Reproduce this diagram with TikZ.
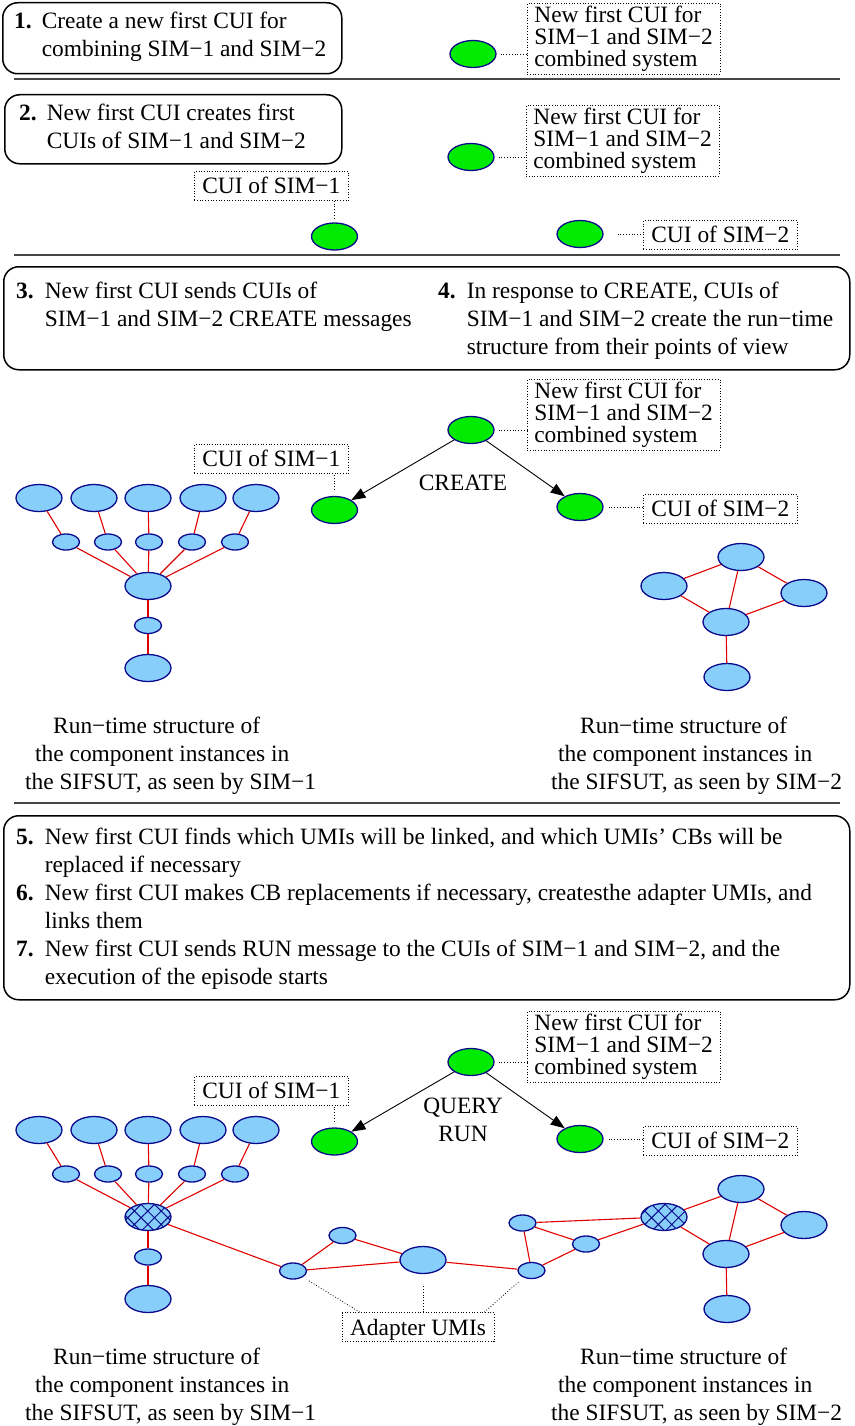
\documentclass[tikz,border=0pt]{standalone}
\usepackage{fontspec}
\setmainfont{Liberation Serif}
\usetikzlibrary{shapes.geometric,arrows.meta,patterns.meta}

\definecolor{umiblue}{RGB}{135,206,250}
\definecolor{umirim}{RGB}{10,10,140}
\definecolor{cuigreen}{RGB}{0,235,0}
\definecolor{linkred}{RGB}{225,0,0}
\definecolor{rulegray}{RGB}{70,70,70}

\newcommand\bodyfont{\fontsize{23.4}{28}\selectfont}
\newcommand\tagfont{\fontsize{23.4}{22}\selectfont}
\newcommand\stepnum[1]{\textbf{#1}}

\begin{document}
\begin{tikzpicture}[x=1pt,y=-1pt,
  every node/.style={font=\bodyfont},
  big/.style={ellipse, draw=umirim, fill=umiblue, line width=1.3pt,
    minimum width=46pt, minimum height=27pt, inner sep=0pt},
  small/.style={big, minimum width=27pt, minimum height=16pt},
  hub/.style={big, preaction={fill=umiblue},
    pattern={Hatch[angle=45,distance=9.5pt,line width=1pt]}, pattern color=umirim},
  cui/.style={big, fill=cuigreen},
  tag/.style={draw, dotted, line width=0.7pt, inner xsep=7pt, inner ysep=2.5pt,
    align=left, font=\tagfont, anchor=north west},
  tagone/.style={draw, dotted, line width=0.7pt, inner xsep=8pt, inner ysep=1.5pt,
    text height=21pt, text depth=5pt, anchor=north west},
  link/.style={draw=linkred, line width=1.1pt},
  dotlink/.style={dotted, line width=0.8pt},
  msg/.style={-{Triangle[length=14pt,width=10.5pt]}, line width=0.9pt},
  stepbox/.style={draw, rounded corners=15pt, line width=1.5pt, anchor=north west, inner sep=0pt},
  steptext/.style={anchor=base west, inner sep=0pt},
  rule/.style={draw=rulegray, line width=1.8pt}
]
\useasboundingbox (0,0) rectangle (854,1426);

% ---------- step 1 ----------
\node[stepbox, minimum width=339pt, minimum height=71pt] (box1) at (2,2) {};
\node[steptext] (step1) at (14,29) {\begin{tabular}[t]{@{}l@{\hspace{10pt}}l@{}}
  \stepnum{1.} & Create a new first CUI for\\
  & combining SIM−1 and SIM−2\end{tabular}};
\node[cui] (new1) at (473,54) {};
\node[tag, minimum height=70pt] (newtag1) at (527,3) {New first CUI for\\SIM−1 and SIM−2\\combined system};
\draw[dotlink, shorten <=4pt] (new1.east) -- (new1.east -| newtag1.west);
\draw[rule] (14,79) -- (840,79);

% ---------- step 2 ----------
\node[stepbox, minimum width=337pt, minimum height=69pt] (box2) at (4,94) {};
\node[steptext] (step2) at (19,121) {\begin{tabular}[t]{@{}l@{\hspace{10pt}}l@{}}
  \stepnum{2.} & New first CUI creates first\\
  & CUIs of SIM−1 and SIM−2\end{tabular}};
\node[cui] (new2) at (471,157) {};
\node[tag, minimum height=70pt] (newtag2) at (526,105) {New first CUI for\\SIM−1 and SIM−2\\combined system};
\draw[dotlink, shorten <=4pt] (new2.east) -- (new2.east -| newtag2.west);
\node[tagone] (simtag2a) at (194,171) {CUI of SIM−1};
\node[cui] (sim2a) at (334.5,236.5) {};
\draw[dotlink, shorten <=4pt] (sim2a.north) -- (sim2a.north |- simtag2a.south);
\node[cui] (sim2b) at (580,234) {};
\node[tagone] (simtag2b) at (643,220) {CUI of SIM−2};
\draw[dotlink, shorten <=14pt] (sim2b.east) -- (sim2b.east -| simtag2b.west);
\draw[rule] (14,255) -- (840,255);

% ---------- steps 3 and 4 ----------
\node[stepbox, minimum width=846pt, minimum height=103pt] (box3) at (3,266) {};
\node[steptext] (step3) at (16,298) {\begin{tabular}[t]{@{}l@{\hspace{11pt}}l@{}}
  \stepnum{3.} & New first CUI sends CUIs of\\
  & SIM−1 and SIM−2 CREATE messages\end{tabular}};
\node[steptext] (step4) at (438,298) {\begin{tabular}[t]{@{}l@{\hspace{11pt}}l@{}}
  \stepnum{4.} & In response to CREATE, CUIs of\\
  & SIM−1 and SIM−2 create the run−time\\
  & structure from their points of view\end{tabular}};

\node[tag, minimum height=70pt] (newtag3) at (527,379) {New first CUI for\\SIM−1 and SIM−2\\combined system};
\node[cui] (new3) at (471,430) {};
\draw[dotlink, shorten <=4pt] (new3.east) -- (new3.east -| newtag3.west);
\node[tagone] (simtag3a) at (194,444) {CUI of SIM−1};
\node[cui] (sim3a) at (334.5,510) {};
\draw[dotlink, shorten <=6pt] (sim3a.north) -- (sim3a.north |- simtag3a.south);
\node[cui] (sim3b) at (580,507) {};
\node[tagone] (simtag3b) at (643,494) {CUI of SIM−2};
\draw[dotlink, shorten <=5pt] (sim3b.east) -- (sim3b.east -| simtag3b.west);
\draw[msg] (new3) -- (sim3a);
\draw[msg] (new3) -- (sim3b);
\node (create) at (463,483) {CREATE};

% run-time structure seen by SIM-1
\foreach \i/\x in {1/39,2/94,3/148,4/203,5/256} \node[big] (la\i) at (\x,498) {};
\foreach \i/\x in {1/66,2/108,3/149,4/192,5/235} \node[small] (lb\i) at (\x,542) {};
\node[big] (lc) at (148,586) {};
\node[small] (ld) at (148,625.5) {};
\node[big] (le) at (148,668) {};
\foreach \i in {1,...,5} \draw[link] (la\i) -- (lb\i) (lb\i) -- (lc);
\draw[link] (lc) -- (ld) (ld) -- (le);

% run-time structure seen by SIM-2
\node[big] (ra) at (741,557) {};
\node[big] (rb) at (664,586) {};
\node[big] (rc) at (804,593) {};
\node[big] (rd) at (726,622) {};
\node[big] (re) at (727,677) {};
\draw[link] (ra) -- (rb) (ra) -- (rc) (ra) -- (rd) (rb) -- (rd) (rc) -- (rd) (rd) -- (re);

\node[steptext] (cap3a) at (25,733) {\begin{tabular}[t]{@{}l@{}}
  \hspace*{28pt}Run−time structure of\\
  \hspace*{10pt}the component instances in\\
  the SIFSUT, as seen by SIM−1\end{tabular}};
\node[steptext] (cap3b) at (551,733) {\begin{tabular}[t]{@{}l@{}}
  \hspace*{29pt}Run−time structure of\\
  \hspace*{7pt}the component instances in\\
  the SIFSUT, as seen by SIM−2\end{tabular}};
\draw[rule] (14,803) -- (840,803);

% ---------- steps 5 to 7 ----------
\node[stepbox, minimum width=846pt, minimum height=184pt] (box5) at (3,815) {};
\node[steptext] (step5) at (16,844) {\begin{tabular}[t]{@{}l@{\hspace{11pt}}l@{}}
  \stepnum{5.} & New first CUI finds which UMIs will be linked, and which UMIs’ CBs will be\\
  & replaced if necessary\\
  \stepnum{6.} & New first CUI makes CB replacements if necessary, createsthe adapter UMIs, and\\
  & links them\\
  \stepnum{7.} & New first CUI sends RUN message to the CUIs of SIM−1 and SIM−2, and the\\
  & execution of the episode starts\end{tabular}};

% ---------- linked system ----------
\node[tag, minimum height=70pt] (newtag4) at (527,1011) {New first CUI for\\SIM−1 and SIM−2\\combined system};
\node[cui] (new4) at (471,1062) {};
\draw[dotlink, shorten <=4pt] (new4.east) -- (new4.east -| newtag4.west);
\node[tagone] (simtag4a) at (194,1076) {CUI of SIM−1};
\node[cui] (sim4a) at (334.5,1141.5) {};
\draw[dotlink, shorten <=6pt] (sim4a.north) -- (sim4a.north |- simtag4a.south);
\node[cui] (sim4b) at (580,1139) {};
\node[tagone] (simtag4b) at (643,1126) {CUI of SIM−2};
\draw[dotlink, shorten <=5pt] (sim4b.east) -- (sim4b.east -| simtag4b.west);
\draw[msg] (new4) -- (sim4a);
\draw[msg] (new4) -- (sim4b);
\node[align=center] (queryrun) at (463,1120) {QUERY\\RUN};

% SIM-1 side
\foreach \i/\x in {1/39,2/94,3/148,4/203,5/256} \node[big] (ma\i) at (\x,1130) {};
\foreach \i/\x in {1/66,2/108,3/149,4/192,5/235} \node[small] (mb\i) at (\x,1174) {};
\node[hub] (mc) at (148,1217) {};
\node[small] (md) at (148,1257) {};
\node[big] (me) at (148,1299) {};
\foreach \i in {1,...,5} \draw[link] (ma\i) -- (mb\i) (mb\i) -- (mc);
\draw[link] (mc) -- (md) (md) -- (me);

% adapter UMIs
\node[small] (ad1) at (293,1271) {};
\node[small] (ad2) at (342.5,1235.5) {};
\node[big] (ad3) at (423,1260) {};
\node[small] (ad4) at (531.5,1270.5) {};
\node[small] (ad5) at (522.5,1223) {};
\node[small] (ad6) at (586,1244) {};

% SIM-2 side
\node[big] (na) at (741,1189) {};
\node[hub] (nb) at (664,1217) {};
\node[big] (nc) at (804,1225) {};
\node[big] (nd) at (726,1254) {};
\node[big] (ne) at (727,1309) {};
\draw[link] (na) -- (nb) (na) -- (nc) (na) -- (nd) (nb) -- (nd) (nc) -- (nd) (nd) -- (ne);

\draw[link] (mc) -- (ad1) (ad1) -- (ad2) (ad1) -- (ad3) (ad2) -- (ad3) (ad3) -- (ad4)
  (ad4) -- (ad5) (ad4) -- (ad6) (ad5) -- (ad6) (ad5) -- (nb) (ad6) -- (nb);

\node[tagone, anchor=center] (adtag) at (418,1327) {Adapter UMIs};
\draw[dotlink, shorten >=6pt] ([xshift=18pt]adtag.north west) -- (ad1);
\draw[dotlink, shorten >=10pt] (adtag.north -| ad3) -- (ad3);
\draw[dotlink, shorten >=6pt] ([xshift=-10pt]adtag.north east) -- (ad4);

\node[steptext] (cap4a) at (25,1364) {\begin{tabular}[t]{@{}l@{}}
  \hspace*{28pt}Run−time structure of\\
  \hspace*{10pt}the component instances in\\
  the SIFSUT, as seen by SIM−1\end{tabular}};
\node[steptext] (cap4b) at (551,1364) {\begin{tabular}[t]{@{}l@{}}
  \hspace*{29pt}Run−time structure of\\
  \hspace*{7pt}the component instances in\\
  the SIFSUT, as seen by SIM−2\end{tabular}};
\end{tikzpicture}
\end{document}
